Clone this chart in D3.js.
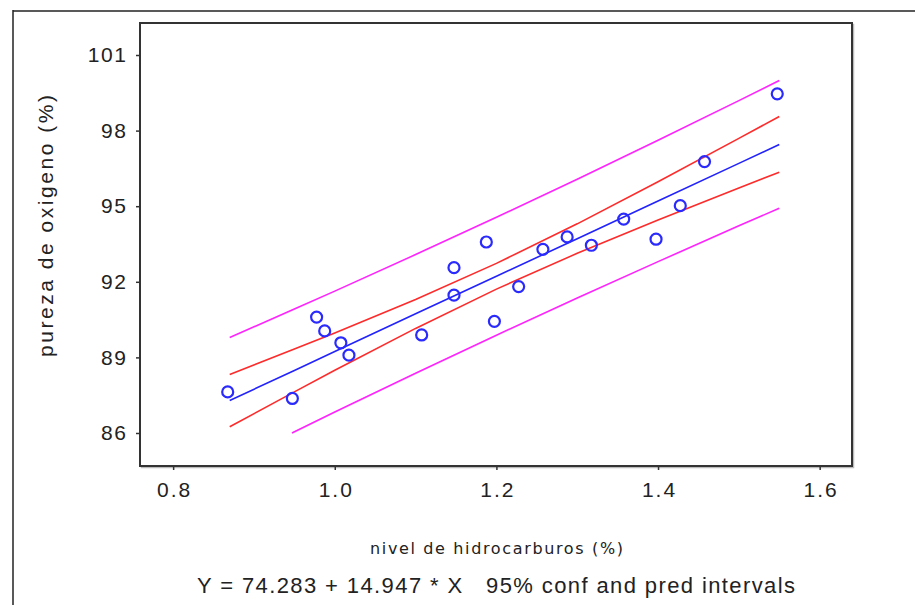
<!DOCTYPE html>
<html>
<head>
<meta charset="utf-8">
<script src="https://cdn.jsdelivr.net/npm/d3@7"></script>
<style>
  body { margin: 0; background: #fff; }
  text { font-family: Arial, "Liberation Sans", sans-serif; fill: #222; }
</style>
</head>
<body>
<div id="chart"></div>
<script>
// observed points: hydrocarbon level vs oxygen purity
var hidro = [0.99, 1.02, 1.15, 1.29, 1.46, 1.36, 0.87, 1.23, 1.55, 1.40,
             1.19, 1.15, 0.98, 1.01, 1.11, 1.20, 1.26, 1.32, 1.43, 0.95];
var pureza = [90.01, 89.05, 91.43, 93.74, 96.73, 94.45, 87.59, 91.77, 99.42, 93.65,
              93.54, 92.52, 90.56, 89.54, 89.85, 90.39, 93.25, 93.41, 94.98, 87.33];

// lines
var lineX = [0.87, 0.95, 1.0, 1.1, 1.2, 1.3, 1.4, 1.5, 1.55];
var fitY = [87.29, 88.48, 89.23, 90.73, 92.22, 93.71, 95.21, 96.70, 97.45];
var confUp = [88.32, 89.33, 89.97, 91.30, 92.73, 94.30, 95.97, 97.69, 98.56];
var confLo = [86.25, 87.63, 88.49, 90.15, 91.71, 93.13, 94.45, 95.72, 96.35];
var predUp = [89.79, 90.92, 91.63, 93.08, 94.56, 96.07, 97.62, 99.19, 99.99];
var predLoX = [0.947, 1.0, 1.1, 1.2, 1.3, 1.4, 1.5, 1.55];
var predLo = [86.0, 86.83, 88.37, 89.88, 91.36, 92.80, 94.22, 94.92];

var xTicks = [0.8, 1.0, 1.2, 1.4, 1.6];
var yTicks = [86, 89, 92, 95, 98, 101];

var W = 915, H = 605;
var plotL = 140, plotR = 852, plotT = 23, plotB = 466;

var svg = d3.select('#chart').append('svg')
  .attr('width', W)
  .attr('height', H);

// outer frame (top and left only visible)
svg.append('line')
  .attr('x1', 13).attr('y1', 11).attr('x2', W).attr('y2', 11)
  .style('stroke', '#222').style('stroke-width', 1.5);
svg.append('line')
  .attr('x1', 13).attr('y1', 10).attr('x2', 13).attr('y2', H)
  .style('stroke', '#222').style('stroke-width', 1.5);

var x = d3.scaleLinear().domain([0.759, 1.64]).range([plotL, plotR]);
var y = d3.scaleLinear().domain([84.69, 102.27]).range([plotB, plotT]);

// plot box with a little shadow
svg.append('rect')
  .attr('x', plotL + 1.5).attr('y', plotT + 1.5)
  .attr('width', plotR - plotL).attr('height', plotB - plotT)
  .style('fill', 'none').style('stroke', '#bbb').style('stroke-width', 1.5);
svg.append('rect')
  .attr('x', plotL).attr('y', plotT)
  .attr('width', plotR - plotL).attr('height', plotB - plotT)
  .style('fill', '#fff').style('stroke', '#333').style('stroke-width', 2);

var xAxis = svg.append('g')
  .attr('transform', 'translate(0,' + plotB + ')')
  .call(d3.axisBottom(x).tickValues(xTicks).tickFormat(d3.format('.1f')).tickSize(4).tickPadding(12));
var yAxis = svg.append('g')
  .attr('transform', 'translate(' + plotL + ',0)')
  .call(d3.axisLeft(y).tickValues(yTicks).tickSize(4).tickPadding(10));

[xAxis, yAxis].forEach(function(g) {
  g.select('.domain').remove();
  g.selectAll('.tick line').style('stroke', '#333').style('stroke-width', 1.5);
  g.selectAll('.tick text')
    .style('font-family', 'Arial, "Liberation Sans", sans-serif')
    .style('font-size', '21px')
    .style('fill', '#222');
});
xAxis.selectAll('.tick text').style('letter-spacing', '2px').attr('dx', '1px');
yAxis.selectAll('.tick text').style('letter-spacing', '1.6px').attr('dx', '1.6px');

// bands and fit
var drawLine = function(xs, ys, color) {
  var pts = xs.map(function(d, i) { return [d, ys[i]]; });
  svg.append('path')
    .datum(pts)
    .attr('d', d3.line().x(function(d) { return x(d[0]); }).y(function(d) { return y(d[1]); }))
    .style('fill', 'none')
    .style('stroke', color)
    .style('stroke-width', 1.6);
};
drawLine(lineX, predUp, '#ff22ff');
drawLine(predLoX, predLo, '#ff22ff');
drawLine(lineX, confUp, '#ff2a2a');
drawLine(lineX, confLo, '#ff2a2a');
drawLine(lineX, fitY, '#2222ff');

// observed points (marker glyph sits a bit up-left in the original)
svg.append('g')
  .attr('transform', 'translate(-2,-1)')
  .selectAll('circle.pt')
  .data(hidro)
  .enter()
  .append('circle')
  .attr('class', 'pt')
  .attr('cx', function(d) { return x(d); })
  .attr('cy', function(d, i) { return y(pureza[i]); })
  .attr('r', 5.5)
  .style('fill', 'none')
  .style('stroke', '#2a2aff')
  .style('stroke-width', 2.2);

// labels
svg.append('text')
  .attr('transform', 'translate(53,226) rotate(-90)')
  .attr('text-anchor', 'middle')
  .attr('textLength', 262)
  .attr('lengthAdjust', 'spacing')
  .style('font-size', '21px')
  .text('pureza de oxigeno (%)');

svg.append('text')
  .attr('x', 370).attr('y', 554)
  .attr('textLength', 253)
  .attr('lengthAdjust', 'spacing')
  .style('font-family', 'Tahoma, "DejaVu Sans", sans-serif')
  .style('font-size', '16px')
  .text('nivel de hidrocarburos (%)');

svg.append('text')
  .attr('x', 197).attr('y', 593)
  .attr('textLength', 598)
  .attr('lengthAdjust', 'spacing')
  .style('font-size', '22px')
  .style('white-space', 'pre')
  .text('Y = 74.283 + 14.947 * X   95% conf and pred intervals');
</script>
</body>
</html>
